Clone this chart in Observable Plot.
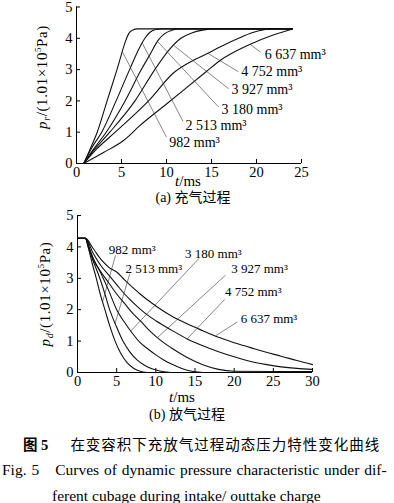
<!DOCTYPE html>
<html><head><meta charset="utf-8">
<script src="https://cdn.jsdelivr.net/npm/d3@7"></script>
<script src="https://cdn.jsdelivr.net/npm/@observablehq/plot@0.6"></script>
<style>
body{margin:0;background:#fff;}
#wrap{position:relative;width:394px;height:503px;overflow:hidden;font-family:"Liberation Serif","Noto Sans CJK SC",serif;color:#000;}
#wrap svg{position:absolute;left:0;overflow:visible;}
.cap{position:absolute;white-space:nowrap;line-height:1;}
</style></head><body><div id="wrap"></div>
<script>
// ---------- data ----------
const seriesNames = ["982 mm³", "2 513 mm³", "3 180 mm³", "3 927 mm³", "4 752 mm³", "6 637 mm³"];

// (a) charging: time (ms) and pressure (×1.01e5 Pa)
const charge982T  = [0.8, 1.5, 2.3, 3.4, 4.5, 5.5, 5.8, 6.2, 6.8, 24];
const charge982P  = [0, 0.45, 1, 2, 3, 3.95, 4.15, 4.26, 4.3, 4.3];
const charge2513T = [0.8, 1.8, 2.8, 4.4, 5.9, 7.0, 7.6, 8.2, 8.8, 9.4, 24];
const charge2513P = [0, 0.55, 1, 2, 3, 3.7, 4.0, 4.2, 4.28, 4.3, 4.3];
const charge3180T = [0.8, 2, 3.3, 5.4, 7.2, 8.2, 9.1, 9.8, 10.6, 11.4, 24];
const charge3180P = [0, 0.5, 1, 2, 3, 3.5, 3.95, 4.15, 4.26, 4.3, 4.3];
const charge3927T = [0.8, 2, 3.7, 6.5, 8.7, 10.2, 11.6, 12.8, 14, 15.5, 24];
const charge3927P = [0, 0.45, 1, 2, 3, 3.6, 4.0, 4.17, 4.26, 4.3, 4.3];
const charge4752T = [0.8, 2.2, 4.3, 8.0, 10.8, 13, 14.6, 16, 18, 19.5, 21, 22, 24];
const charge4752P = [0, 0.45, 1, 2, 2.9, 3.3, 3.52, 3.73, 4.0, 4.18, 4.28, 4.3, 4.3];
const charge6637T = [0.8, 3, 5.3, 7, 10, 14.4, 16, 19, 22, 24];
const charge6637P = [0, 0.35, 0.75, 1.2, 1.9, 2.93, 3.3, 3.77, 4.12, 4.3];

// (b) discharging
const dis982T  = [0, 1, 1.4, 1.9, 2.4, 2.9, 3.5, 4.1, 4.8, 5.5, 6.3, 7.2, 8, 8.9];
const dis982P  = [4.27, 4.27, 3.95, 3.45, 3.0, 2.5, 2.0, 1.5, 1.0, 0.62, 0.32, 0.13, 0.04, 0];
const dis2513T = [0, 1, 1.5, 2, 2.85, 3.5, 4.1, 4.9, 5.8, 6.7, 7.6, 8.5, 9.5, 10.5, 11.9];
const dis2513P = [4.27, 4.27, 3.9, 3.55, 3.0, 2.5, 2.0, 1.5, 1.0, 0.65, 0.4, 0.24, 0.12, 0.05, 0];
const dis3180T = [0, 1, 1.5, 2, 3, 4, 5, 6, 7, 8, 9, 10, 11, 12, 13, 14, 15, 16];
const dis3180P = [4.27, 4.27, 3.95, 3.65, 3.15, 2.6, 2.0, 1.6, 1.25, 0.95, 0.75, 0.56, 0.4, 0.27, 0.16, 0.07, 0.02, 0];
const dis3927T = [0, 1, 2, 3, 4, 5, 6, 7, 8, 9, 10, 11, 12, 14, 16, 18, 20, 25, 30];
const dis3927P = [4.27, 4.27, 3.6, 3.2, 2.85, 2.5, 2.2, 1.9, 1.65, 1.38, 1.15, 0.95, 0.78, 0.48, 0.25, 0.1, 0.04, 0.03, 0.03];
const dis4752T = [0, 1, 2, 3, 4, 5, 6, 7, 8, 9, 10, 12, 14, 16, 18, 20, 22, 24, 26, 28, 30];
const dis4752P = [4.27, 4.27, 3.8, 3.4, 3.1, 2.8, 2.5, 2.25, 2.02, 1.82, 1.65, 1.35, 1.07, 0.85, 0.66, 0.5, 0.36, 0.26, 0.18, 0.13, 0.1];
const dis6637T = [0, 1, 2, 3, 4, 5, 6, 7, 8, 9, 10, 12, 14, 16, 18, 20, 22, 24, 26, 28, 30];
const dis6637P = [4.27, 4.27, 3.95, 3.6, 3.35, 3.2, 2.95, 2.72, 2.5, 2.3, 2.12, 1.8, 1.55, 1.33, 1.12, 0.95, 0.8, 0.65, 0.52, 0.38, 0.25];

// tick values
const chargeTicksX = [0, 5, 10, 15, 20, 25];
const dischargeTicksX = [0, 5, 10, 15, 20, 25, 30];
const ticksY = [0, 1, 2, 3, 4, 5];

// annotation anchors (data units): label start, leader start, leader end time on curve
const chargeLabelT  = [10.2, 12.0, 16.0, 17.1, 18.2, 20.8];
const chargeLabelP  = [0.67, 1.2, 1.74, 2.37, 2.93, 3.47];
const chargeLeadT   = [10.0, 11.85, 15.8, 16.9, 18.0, 20.44];
const chargeLeadP   = [0.84, 1.34, 1.8, 2.39, 2.93, 3.56];
const chargeLeadEnd = [5.1, 7.3, 9.0, 10.8, 14.6, 19.3];

const disLabelT  = [3.87, 6.0, 13.6, 19.5, 18.7, 20.7];
const disLabelP  = [3.9, 3.31, 3.79, 3.31, 2.57, 1.72];
const disLeadT   = [4.85, 6.67, 15.5, 18.9, 18.8, 20.4];
const disLeadP   = [3.73, 3.14, 3.63, 3.1, 2.33, 1.61];
const disLeadEnd = [3.2, 4.8, 6.8, 10.2, 14.0, 17.6];

// ---------- build tables ----------
const chargeT = [charge982T, charge2513T, charge3180T, charge3927T, charge4752T, charge6637T];
const chargeP = [charge982P, charge2513P, charge3180P, charge3927P, charge4752P, charge6637P];
const disT = [dis982T, dis2513T, dis3180T, dis3927T, dis4752T, dis6637T];
const disP = [dis982P, dis2513P, dis3180P, dis3927P, dis4752P, dis6637P];

function rows(Ts, Ps) {
  return seriesNames.flatMap((name, i) => Ts[i].map((t, j) => ({name, t, p: Ps[i][j]})));
}
function interp(ts, ps, t) {
  for (let j = 1; j < ts.length; j++) {
    if (t <= ts[j]) { const f = (t - ts[j-1]) / (ts[j] - ts[j-1]); return ps[j-1] + f * (ps[j] - ps[j-1]); }
  }
  return ps[ps.length - 1];
}
function labels(LT, LP) { return seriesNames.map((name, i) => ({name, t: LT[i], p: LP[i]})); }
function leaders(ST, SP, ET, Ts, Ps) {
  return seriesNames.map((name, i) => ({t1: ST[i], p1: SP[i], t2: ET[i], p2: interp(Ts[i], Ps[i], ET[i])}));
}

const FONT = "Liberation Serif, Noto Sans CJK SC, serif";

function chart({data, lab, lead, xDomain, xTicks, height, mL, mR, mT, mB, labSize}) {
  return Plot.plot({
    width: 394, height,
    marginLeft: mL, marginRight: mR, marginTop: mT, marginBottom: mB,
    style: {fontFamily: FONT, fontSize: "14px", color: "#000", background: "transparent", overflow: "visible"},
    x: {domain: xDomain, label: null},
    y: {domain: [0, 5], label: null},
    marks: [
      Plot.ruleX([xDomain[0]], {stroke: "#000", strokeWidth: 1}),
      Plot.ruleY([0], {stroke: "#000", strokeWidth: 1}),
      Plot.axisX(xTicks, {tickSize: -4, tickPadding: 7, fontSize: 14.5}),
      Plot.axisY(ticksY, {tickSize: -4, tickPadding: 8, fontSize: 14.5}),
      Plot.line(data, {x: "t", y: "p", z: "name", stroke: "#111", strokeWidth: 1.1, curve: "monotone-x"}),
      Plot.link(lead, {x1: "t1", y1: "p1", x2: "t2", y2: "p2", stroke: "#333", strokeWidth: 0.6}),
      Plot.text(lab, {x: "t", y: "p", text: "name", textAnchor: "start", dx: 1, fontSize: labSize})
    ]
  });
}

const wrap = document.getElementById("wrap");

const chartA = chart({
  data: rows(chargeT, chargeP), lab: labels(chargeLabelT, chargeLabelP),
  lead: leaders(chargeLeadT, chargeLeadP, chargeLeadEnd, chargeT, chargeP),
  xDomain: [0, 25], xTicks: chargeTicksX, height: 205, mL: 76, mR: 93, mT: 6.5, mB: 42, labSize: 14
});
chartA.style.top = "0px";
wrap.appendChild(chartA);

const chartB = chart({
  data: rows(disT, disP), lab: labels(disLabelT, disLabelP),
  lead: leaders(disLeadT, disLeadP, disLeadEnd, disT, disP),
  xDomain: [0, 30], xTicks: dischargeTicksX, height: 205, mL: 77, mR: 82, mT: 5, mB: 43, labSize: 13
});
chartB.style.top = "210px";
wrap.appendChild(chartB);

// y-axis titles, x-axis titles, subtitles (as SVG text)
function yTitle(svg, cx, cy, sub) {
  const t = d3.select(svg).append("text")
    .attr("transform", `translate(${cx},${cy}) rotate(-90)`)
    .attr("text-anchor", "middle").attr("font-family", FONT).attr("font-size", 15)
    .attr("letter-spacing", 0.6).attr("fill", "#000");
  t.append("tspan").attr("font-style", "italic").text("p");
  t.append("tspan").attr("font-style", "italic").attr("font-size", 10).attr("dy", 3).text(sub);
  t.append("tspan").attr("dy", -3).text("/(1.01×10");
  t.append("tspan").attr("font-size", 9).attr("dy", -6).text("5");
  t.append("tspan").attr("dy", 6).text("Pa)");
}
function xTitle(svg, cx, cy, subText, sy) {
  const g = d3.select(svg);
  const t = g.append("text").attr("x", cx).attr("y", cy).attr("text-anchor", "middle")
    .attr("font-family", FONT).attr("font-size", 15).attr("fill", "#000").attr("dominant-baseline", "middle");
  t.append("tspan").attr("font-style", "italic").text("t");
  t.append("tspan").text("/ms");
  g.append("text").attr("x", cx + 5).attr("y", sy).attr("text-anchor", "middle")
    .attr("font-family", FONT).attr("font-size", 14).attr("fill", "#000").attr("dominant-baseline", "middle")
    .text(subText);
}
yTitle(chartA, 47, 77, "r");
xTitle(chartA, 188, 183, "(a) 充气过程", 199);
yTitle(chartB, 50, 84, "d");
xTitle(chartB, 182, 189, "(b) 放气过程", 206);

// caption
function cap(html, left, topPx, size, extra) {
  const d = document.createElement("div");
  d.className = "cap"; d.innerHTML = html;
  d.style.left = left + "px"; d.style.top = topPx + "px"; d.style.fontSize = size + "px";
  if (extra) Object.assign(d.style, extra);
  wrap.appendChild(d);
}
cap('<b>图 5</b><span style="display:inline-block;width:22px"></span><span style="letter-spacing:1px">在变容积下充放气过程动态压力特性变化曲线</span>', 23, 438, 14.5);
cap('Fig. 5<span style="display:inline-block;width:16px"></span>Curves of dynamic pressure characteristic under dif-', 2, 462, 15.5, {wordSpacing: "1px"});
cap('ferent cubage during intake/ outtake charge', 52, 488, 15.5);
</script></body></html>
